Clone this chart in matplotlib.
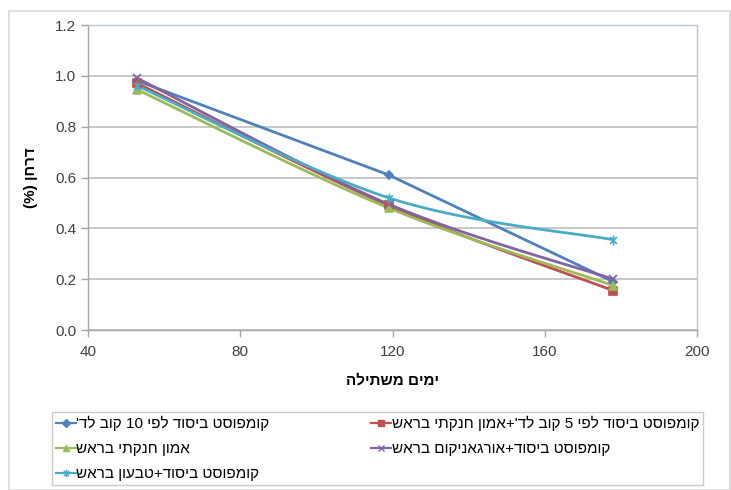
import re
import numpy as np
import matplotlib
matplotlib.use("Agg")
import matplotlib.pyplot as plt
from matplotlib.patches import Rectangle
from matplotlib.path import Path

plt.rcParams['font.family'] = ['Liberation Sans', 'DejaVu Sans']

# Days after planting and the nitrogen content (%) for each treatment
days = [53, 119, 178]
series_names = [
    "קומפוסט ביסוד לפי 10 קוב לד'",
    "קומפוסט ביסוד לפי 5 קוב לד'+אמון חנקתי בראש",
    "אמון חנקתי בראש",
    "קומפוסט ביסוד+אורגאניקום בראש",
    "קומפוסט ביסוד+טבעון בראש",
]
compost10 = [0.98, 0.61, 0.19]
compost5_ammon = [0.97, 0.49, 0.155]
ammon = [0.945, 0.48, 0.175]
compost_organicum = [0.99, 0.495, 0.20]
compost_tivon = [0.96, 0.52, 0.355]
x_ticks = [40, 80, 120, 160, 200]
y_ticks = [0.0, 0.2, 0.4, 0.6, 0.8, 1.0, 1.2]
x_label = "ימים משתילה"
y_label = "דרחן (%)"

colors = ['#4F81BD', '#C0504D', '#9BBB59', '#8064A2', '#4BACC6']

# star marker: an x with a vertical bar through it
_d = 0.7071
star = Path([(-_d, -_d), (_d, _d), (-_d, _d), (_d, -_d), (0, -1), (0, 1)],
            [Path.MOVETO, Path.LINETO, Path.MOVETO, Path.LINETO, Path.MOVETO, Path.LINETO])
markers = ['D', 's', '^', 'x', star]
msizes = [4.5, 5.5, 5.5, 5.5, 7]
smooth = [False, True, True, True, True]


def visual(s):
    """Hebrew text in display order (matplotlib has no bidi support)."""
    r = s[::-1]
    r = re.sub(r'[0-9]+', lambda m: m.group(0)[::-1], r)
    r = r.translate(str.maketrans('()', ')('))
    return r


W, H = 731, 490
fig = plt.figure(figsize=(W / 100, H / 100), dpi=100)
fig.patch.set_facecolor('white')
fig.patches.append(Rectangle((9 / W, 0), (730 - 9) / W, 1 - 11 / H,
                             transform=fig.transFigure, fill=False,
                             edgecolor='#D9D9D9', lw=1.2))

L, R, T, B = 88, 697, 25, 330
ax = fig.add_axes([L / W, 1 - B / H, (R - L) / W, (B - T) / H])
ax.set_xlim(40, 200)
ax.set_ylim(0, 1.2)

# pixel scaling used for the bezier smoothing
sx = (R - L) / 160.0
sy = (B - T) / 1.2


def smooth_curve(xs, ys, n=60):
    P = np.column_stack([np.array(xs) * sx, np.array(ys) * sy])
    pts = []
    m = len(P)
    for i in range(m - 1):
        p0 = P[i - 1] if i > 0 else P[i]
        p1, p2 = P[i], P[i + 1]
        p3 = P[i + 2] if i + 2 < m else P[i + 1]
        c1 = p1 + (p2 - p0) / 6.0
        c2 = p2 - (p3 - p1) / 6.0
        t = np.linspace(0, 1, n)[:, None]
        seg = ((1 - t) ** 3) * p1 + 3 * ((1 - t) ** 2) * t * c1 + 3 * (1 - t) * t ** 2 * c2 + t ** 3 * p2
        pts.append(seg if i == 0 else seg[1:])
    pts = np.vstack(pts)
    return pts[:, 0] / sx, pts[:, 1] / sy


data = [compost10, compost5_ammon, ammon, compost_organicum, compost_tivon]
handles = []
for i, vals in enumerate(data):
    if smooth[i]:
        cx, cy = smooth_curve(days, vals)
    else:
        cx, cy = days, vals
    ax.plot(cx, cy, color=colors[i], lw=2, zorder=3, solid_capstyle='round')
    ax.plot(days, vals, linestyle='none', marker=markers[i], ms=msizes[i],
            color=colors[i], mec=colors[i], mew=1.2, zorder=4)
    h, = ax.plot([], [], color=colors[i], lw=1.6, marker=markers[i],
                 ms=msizes[i] * 0.8, mec=colors[i], mew=1.0,
                 label=visual(series_names[i]))
    handles.append(h)

ax.set_xticks(x_ticks)
ax.set_yticks(y_ticks)
ax.set_yticklabels([f"{v:.1f}" for v in y_ticks])
ax.yaxis.grid(True, color='#BFBFBF', lw=1.2)
ax.set_axisbelow(True)
for side in ['top', 'right']:
    ax.spines[side].set_color('#B9C6D3')
    ax.spines[side].set_linewidth(1)
for side in ['left', 'bottom']:
    ax.spines[side].set_color('#A6A6A6')
    ax.spines[side].set_linewidth(1)
ax.tick_params(axis='both', colors='#A6A6A6', labelcolor='#404040',
               labelsize=11, length=5, width=1, direction='out')
ax.tick_params(axis='x', pad=6)

ax.set_xlabel(visual(x_label), fontsize=11, fontweight='bold', labelpad=10)
ax.set_ylabel(visual(y_label), fontsize=11, fontweight='bold', labelpad=12)

order = [0, 2, 4, 1, 3]
leg = fig.legend([handles[k] for k in order], [handles[k].get_label() for k in order],
                 loc='lower left', bbox_to_anchor=(52 / W, 5 / H, (703 - 52) / W, (485 - 411) / H),
                 mode='expand', ncol=2, fontsize=11, frameon=True, fancybox=False,
                 edgecolor='#BFBFBF', handlelength=1.3, handletextpad=0.05,
                 borderpad=0.25, labelspacing=0.72, columnspacing=1.0, borderaxespad=0)
leg.get_frame().set_linewidth(1)

fig.savefig('out.png', dpi=100)
